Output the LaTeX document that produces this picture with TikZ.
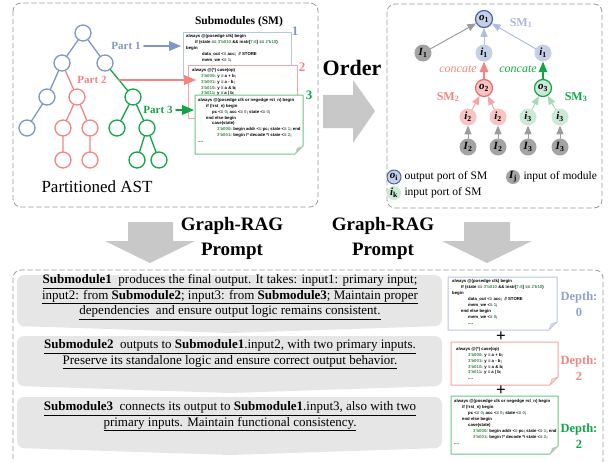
\documentclass[tikz,border=0pt]{standalone}
\usepackage{fontspec}
\setmainfont{Liberation Serif}
\newfontfamily\codefont{Liberation Sans}
\usepackage{tikz}
\usetikzlibrary{arrows}
\definecolor{astblue}{HTML}{8096C8}
\definecolor{astred}{HTML}{F48484}
\definecolor{astgreen}{HTML}{12A548}
\definecolor{boxblue}{HTML}{B8C6E2}
\definecolor{boxred}{HTML}{F4A4A4}
\definecolor{boxgreen}{HTML}{6CC38A}
\definecolor{codenum}{HTML}{3C8C50}
\definecolor{bigarrow}{HTML}{C8C8C8}
\definecolor{promptgray}{HTML}{E6E6E6}
\definecolor{panelgray}{HTML}{9A9A9A}
\definecolor{modgray}{HTML}{A3A3A3}
\definecolor{edgegray}{HTML}{9C9C9C}
\definecolor{portblue}{HTML}{C5CFE6}
\definecolor{portbluedk}{HTML}{4A66A8}
\definecolor{portred}{HTML}{F7C3C3}
\definecolor{portreddk}{HTML}{E86A6A}
\definecolor{portgreen}{HTML}{CBEAD5}
\definecolor{portgreendk}{HTML}{16A043}
\definecolor{edgeblue}{HTML}{AEBEDD}
\definecolor{edgered}{HTML}{F4A6A6}
\definecolor{edgegreen}{HTML}{A6DBB6}
\definecolor{smone}{HTML}{A9B8DA}
\definecolor{depthblue}{HTML}{8FA2CC}
\definecolor{foldgray}{HTML}{B9C9B9}
\definecolor{foldblue}{HTML}{D6DEEE}
\definecolor{foldred}{HTML}{F8D6D6}
\newcommand{\cn}[1]{\textcolor{codenum}{#1}}
\newcommand{\port}[2]{\textbf{\textit{#1}\textsubscript{#2}}}
\tikzstyle{every node}=[font=\normalsize]
\tikzstyle{panel}=[draw=panelgray,dash pattern=on 5pt off 3pt,line width=0.8pt,rounded corners=8pt]
\tikzstyle{ast}=[circle,line width=1.3pt,minimum size=16pt,inner sep=0pt,fill=white]
\tikzstyle{code}=[anchor=north west,align=left,inner sep=0pt,font=\codefont\bfseries\fontsize{4.3}{5.9}\selectfont]
\tikzstyle{port}=[circle,minimum size=17pt,inner sep=0pt,font=\fontsize{11}{11}\selectfont]
\tikzstyle{prompt}=[align=center,font=\fontsize{13}{15.5}\selectfont]
\tikzstyle{depth}=[align=center,font=\bfseries\fontsize{12.5}{16}\selectfont]

\begin{document}
\begin{tikzpicture}[line cap=round,line join=round,>=triangle 45,x=1pt,y=-1pt]
\useasboundingbox (0,0) rectangle (611,461);
\clip (0,0) rectangle (611,461);
% frames
\draw[panel] (13,3) rectangle (318,207);
\draw[panel] (387,4) rectangle (602,208);
\draw[panel] (13,270) rectangle (603,475);

% partitioned AST
\node[ast,draw=astblue] (r) at (83,33) {};
\node[ast,draw=astblue] (a) at (62,63) {};
\node[ast,draw=astblue] (b) at (105,63) {};
\node[ast,draw=astblue] (a1) at (47,97) {};
\node[ast,draw=astred] (a2) at (77,97) {};
\node[ast,draw=astgreen] (b1) at (133,97) {};
\node[ast,draw=astblue] (a11) at (27,128) {};
\node[ast,draw=astred] (a21) at (63,128) {};
\node[ast,draw=astred] (a22) at (90,128) {};
\node[ast,draw=astgreen] (b11) at (117,128) {};
\node[ast,draw=astgreen] (b12) at (147,128) {};
\node[ast,draw=astred] (a211) at (63,160) {};
\node[ast,draw=astred] (a221) at (90,160) {};
\node[ast,draw=astgreen] (b121) at (137,160) {};
\node[ast,draw=astgreen] (b122) at (159,160) {};
\draw[astblue,line width=1.3pt] (r)--(a) (r)--(b) (a)--(a1) (a1)--(a11);
\draw[astred,line width=1.3pt] (a)--(a2) (a2)--(a21) (a2)--(a22) (a21)--(a211) (a22)--(a221);
\draw[astgreen,line width=1.3pt] (b)--(b1) (b1)--(b11) (b1)--(b12) (b12)--(b121) (b12)--(b122);
\node[font=\fontsize{17}{17}\selectfont] (astname) at (97,187) {Partitioned AST};

% submodules
\node[font=\bfseries\fontsize{11.5}{12}\selectfont] (smtitle) at (239,22) {Submodules (SM)};
\coordinate (sm1box) at (183,32);
\coordinate (sm2box) at (188,65);
\coordinate (sm3box) at (195,95);
\draw[boxblue,fill=white,line width=1pt] (183,32) rectangle (291,77);
\node[code] (sm1) at (186,34.5) {always @(posedge clk) begin\\
\hspace*{9pt}if (state == \cn{3'b010} \&\& instr[\cn{7:6}] == \cn{2'b10})\\
begin\\
\hspace*{16pt}data\_out <= acc;\ \ // STORE\\
\hspace*{16pt}mem\_we <= \cn{1};};
\draw[boxred,fill=white,line width=1pt] (188,65) rectangle (297,118);
\node[code] (sm2) at (192,68) {always @(*) case(op)\\
\hspace*{9pt}\cn{3'b000}: y = a + b;\\
\hspace*{9pt}\cn{3'b001}: y = a - b;\\
\hspace*{9pt}\cn{3'b010}: y = a \& b;\\
\hspace*{9pt}\cn{3'b011}: y = a | b;};
\draw[boxgreen,fill=white,line width=1pt] (195,95) -- (303,95) -- (303,146) -- (295,154) -- (195,154) -- cycle;
\fill[foldgray] (303,146) -- (295,154) -- (297,148) -- cycle;
\node[code] (sm3) at (198,98) {always @(posedge clk or negedge rst\_n) begin\\
\hspace*{8pt}if (!rst\_n) begin\\
\hspace*{14pt}pc <= \cn{0}; acc <= \cn{0}; state <= \cn{0};\\
\hspace*{8pt}end else begin\\
\hspace*{14pt}case(state)\\
\hspace*{19pt}\cn{3'b000}: begin addr <= pc; state <= \cn{1}; end\\
\hspace*{19pt}\cn{3'b001}: begin /* decode */ state <= \cn{2};\\
....};
\node[font=\bfseries\fontsize{13}{13}\selectfont,astblue] (n1) at (295,31) {1};
\node[font=\bfseries\fontsize{13}{13}\selectfont,astred] (n2) at (302,67) {2};
\node[font=\bfseries\fontsize{13}{13}\selectfont,astgreen] (n3) at (309,95) {3};
\node[font=\bfseries\fontsize{11}{11}\selectfont,astblue] (part1) at (126,46) {Part 1};
\node[font=\bfseries\fontsize{11}{11}\selectfont,astred] (part2) at (92,80) {Part 2};
\node[font=\bfseries\fontsize{11}{11}\selectfont,astgreen] (part3) at (158,110) {Part 3};
\draw[->,astblue,line width=1.8pt,shorten >=2pt] (part1.east) -- (part1.east -| sm1box);
\draw[->,astred,line width=1.8pt,shorten >=1pt] ([xshift=9pt]part2.east) -- ([xshift=9pt]part2.east -| sm2box);
\draw[->,astgreen,line width=1.8pt,shorten >=1pt] (part3.east) -- (part3.east -| sm3box);

% order
\fill[bigarrow] (323,95) -- (353,95) -- (353,80) -- (375,111) -- (353,143) -- (353,128) -- (323,128) -- cycle;
\node[font=\bfseries\fontsize{22}{22}\selectfont] (order) at (352,68) {Order};

% submodule graph
\node[port,fill=portblue,draw=portbluedk,line width=1.2pt] (o1) at (484,19) {\port{o}{1}};
\node[port,fill=modgray] (I1) at (423,53) {\port{I}{1}};
\node[port,fill=portblue] (i1a) at (484,53) {\port{i}{1}};
\node[port,fill=portblue] (i1b) at (543,53) {\port{i}{1}};
\node[port,fill=portred,draw=portreddk,line width=1.2pt] (o2) at (484,88) {\port{o}{2}};
\node[port,fill=portgreen,draw=portgreendk,line width=1.2pt] (o3) at (543,88) {\port{o}{3}};
\node[port,fill=portred] (i2a) at (468,117) {\port{i}{2}};
\node[port,fill=portred] (i2b) at (498,117) {\port{i}{2}};
\node[port,fill=portgreen] (i3a) at (528,117) {\port{i}{3}};
\node[port,fill=portgreen] (i3b) at (560,117) {\port{i}{3}};
\node[port,fill=modgray] (I2a) at (468,147) {\port{I}{2}};
\node[port,fill=modgray] (I2b) at (498,147) {\port{I}{2}};
\node[port,fill=modgray] (I3a) at (528,147) {\port{I}{3}};
\node[port,fill=modgray] (I3b) at (560,147) {\port{I}{3}};
\draw[->,edgegray,line width=1pt] (I1) -- (o1);
\draw[->,edgeblue,line width=1pt] (i1a) -- (o1);
\draw[->,edgeblue,line width=1pt] (i1b) -- (o1);
\draw[->,astred,line width=1.4pt] (o2) -- (i1a);
\draw[->,astgreen,line width=1.4pt] (o3) -- (i1b);
\draw[->,edgered,line width=1pt] (i2a) -- (o2);
\draw[->,edgered,line width=1pt] (i2b) -- (o2);
\draw[->,edgegreen,line width=1pt] (i3a) -- (o3);
\draw[->,edgegreen,line width=1pt] (i3b) -- (o3);
\draw[->,edgegray,line width=1pt] (I2a) -- (i2a);
\draw[->,edgegray,line width=1pt] (I2b) -- (i2b);
\draw[->,edgegray,line width=1pt] (I3a) -- (i3a);
\draw[->,edgegray,line width=1pt] (I3b) -- (i3b);
\node[font=\bfseries\fontsize{12}{12}\selectfont,smone] (sm1lab) at (521,23) {SM\textsubscript{1}};
\node[font=\bfseries\fontsize{12}{12}\selectfont,astred] (sm2lab) at (448,97) {SM\textsubscript{2}};
\node[font=\bfseries\fontsize{12}{12}\selectfont,astgreen] (sm3lab) at (576,97) {SM\textsubscript{3}};
\node[font=\itshape\fontsize{12}{12}\selectfont,astred] (cat2) at (458,69) {concate};
\node[font=\itshape\fontsize{12}{12}\selectfont,astgreen] (cat3) at (518,69) {concate};
% legend
\node[port,fill=portblue,draw=portbluedk,line width=1pt,minimum size=14pt] (lgo) at (394,177) {\port{o}{i}};
\node[anchor=west,font=\fontsize{11.5}{12}\selectfont] (lgotxt) at (401,177) {output port of SM};
\node[port,fill=modgray,minimum size=14pt] (lgI) at (513,177) {\port{I}{j}};
\node[anchor=west,font=\fontsize{11.5}{12}\selectfont] (lgItxt) at (520,177) {input of module};
\node[port,fill=portgreen,minimum size=14pt] (lgi) at (394,193) {\port{i}{k}};
\node[anchor=west,font=\fontsize{11.5}{12}\selectfont] (lgitxt) at (401,193) {input port of SM};

% graph-rag
\fill[bigarrow] (128,222) -- (173,222) -- (173,241) -- (195,241) -- (150,263) -- (105,241) -- (128,241) -- cycle;
\fill[bigarrow] (464,222) -- (510,222) -- (510,241) -- (532,241) -- (487,263) -- (442,241) -- (464,241) -- cycle;
\node[align=center,font=\bfseries\fontsize{19}{25}\selectfont] (rag1) at (232,238) {Graph-RAG\\Prompt};
\node[align=center,font=\bfseries\fontsize{19}{25}\selectfont] (rag2) at (383,238) {Graph-RAG\\Prompt};

% prompts
\fill[promptgray,rounded corners=7pt] (17,275) -- (442,275) -- (442,326) -- (230,333) -- (17,326) -- cycle;
\fill[promptgray,rounded corners=7pt] (17,336) -- (442,336) -- (442,386) -- (230,393) -- (17,386) -- cycle;
\fill[promptgray,rounded corners=7pt] (17,397) -- (442,397) -- (442,448) -- (230,455) -- (17,448) -- cycle;
\node[prompt] (p1) at (230,297) {\underline{\textbf{Submodule1}\ \ produces the final output. It takes: input1: primary input;}\\
\underline{input2: from \textbf{Submodule2}; input3: from \textbf{Submodule3}; Maintain proper}\\
\underline{dependencies\ \ and ensure output logic remains consistent.}};
\node[prompt] (p2) at (230,354.5) {\underline{\textbf{Submodule2}\ \ outputs to \textbf{Submodule1}.input2,\ with two primary inputs.}\\
\underline{Preserve its standalone logic and ensure correct output behavior.}};
\node[prompt] (p3) at (230,416.5) {\underline{\textbf{Submodule3}\ \ connects its output to \textbf{Submodule1}.input3,\ also with two}\\
\underline{primary inputs. Maintain functional consistency.}};

% depth boxes
\draw[boxblue,fill=white,line width=1pt] (448,277) -- (557,277) -- (557,322) -- (549,330) -- (448,330) -- cycle;
\fill[foldblue] (557,322) -- (549,330) -- (551,324) -- cycle;
\draw[boxblue,line width=0.6pt] (557,322) -- (549,330) -- (551,324) -- cycle;
\node[code] (dsm1) at (452,279.5) {always @(posedge clk) begin\\
\hspace*{9pt}if (state == \cn{3'b010} \&\& instr[\cn{7:6}] == \cn{2'b10})\\
begin\\
\hspace*{16pt}data\_out <= acc;\ \ // STORE\\
\hspace*{16pt}mem\_we <= \cn{1};\\
\hspace*{9pt}end else begin\\
\hspace*{16pt}mem\_we <= \cn{0};\\
\hspace*{16pt}....};
\draw[boxred,fill=white,line width=1pt] (451,342) -- (558,342) -- (558,377) -- (550,385) -- (451,385) -- cycle;
\fill[foldred] (558,377) -- (550,385) -- (552,379) -- cycle;
\draw[boxred,line width=0.6pt] (558,377) -- (550,385) -- (552,379) -- cycle;
\node[code] (dsm2) at (456,347) {always @(*) case(op)\\
\hspace*{12pt}\cn{3'b000}: y = a + b;\\
\hspace*{12pt}\cn{3'b001}: y = a - b;\\
\hspace*{12pt}\cn{3'b010}: y = a \& b;\\
\hspace*{12pt}\cn{3'b011}: y = a | b;\\
\hspace*{12pt}....};
\draw[boxgreen,fill=white,line width=1pt] (451,396) -- (558,396) -- (558,446) -- (550,454) -- (451,454) -- cycle;
\fill[foldgray] (558,446) -- (550,454) -- (552,448) -- cycle;
\node[code] (dsm3) at (454,399.5) {always @(posedge clk or negedge rst\_n) begin\\
\hspace*{8pt}if (!rst\_n) begin\\
\hspace*{14pt}pc <= \cn{0}; acc <= \cn{0}; state <= \cn{0};\\
\hspace*{8pt}end else begin\\
\hspace*{14pt}case(state)\\
\hspace*{19pt}\cn{3'b000}: begin addr <= pc; state <= \cn{1}; end\\
\hspace*{19pt}\cn{3'b001}: begin /* decode */ state <= \cn{2};\\
....};
\node[font=\bfseries\fontsize{17}{17}\selectfont] (plus1) at (501,337) {+};
\node[font=\bfseries\fontsize{17}{17}\selectfont] (plus2) at (501,391) {+};
\node[depth,depthblue] (d0) at (579,304) {Depth:\\0};
\node[depth,astred] (d1) at (579,368) {Depth:\\2};
\node[depth,astgreen] (d2) at (579,436) {Depth:\\2};
\end{tikzpicture}
\end{document}
